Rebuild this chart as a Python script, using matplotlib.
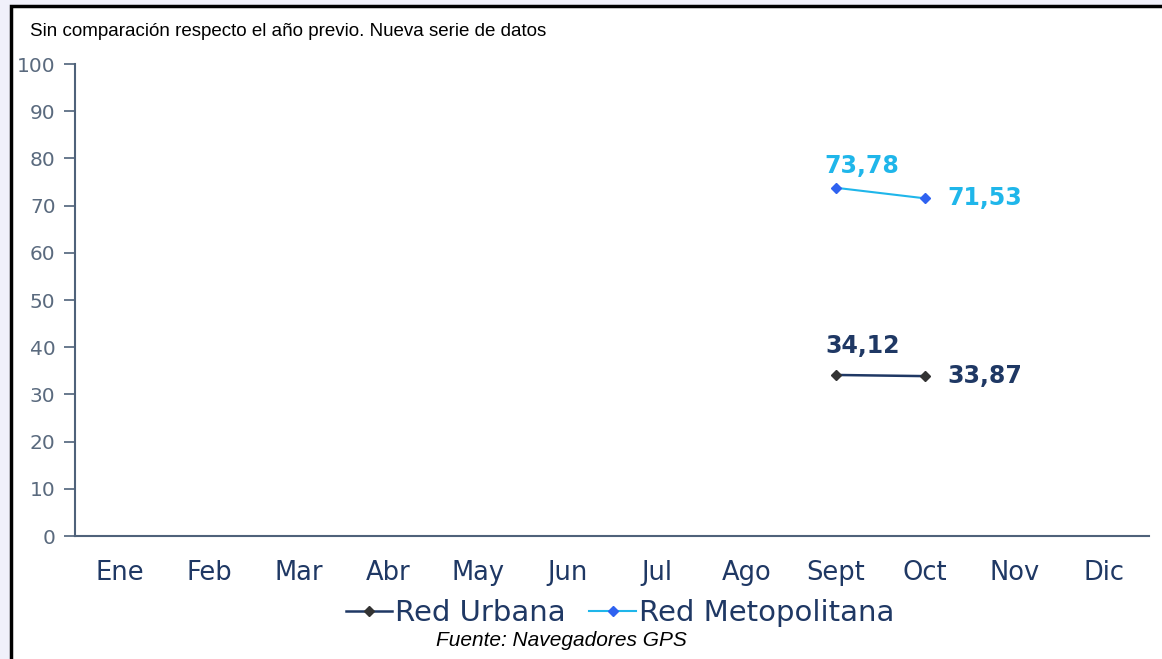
import numpy as np
import matplotlib.pyplot as plt
from matplotlib.patches import Rectangle

meses = ['Ene', 'Feb', 'Mar', 'Abr', 'May', 'Jun', 'Jul', 'Ago', 'Sept', 'Oct', 'Nov', 'Dic']
red_urbana = [np.nan] * 8 + [34.12, 33.87] + [np.nan] * 2
red_metro = [np.nan] * 8 + [73.78, 71.53] + [np.nan] * 2
yticks = list(range(0, 101, 10))

navy = '#1f3864'
cian = '#1fb6ea'
gris_eje = '#4f627a'
fuente = 'DejaVu Sans'

fig = plt.figure(figsize=(11.62, 6.59), dpi=100)
fig.patch.set_facecolor('#f0f0fa')

# panel blanco con borde negro
panel = Rectangle((10.5 / 1162, -0.05), 1.1, (653.5 / 659) + 0.05, transform=fig.transFigure,
                  facecolor='white', edgecolor='black', linewidth=2.5, zorder=-1)
fig.patches.append(panel)

ax = fig.add_axes([75 / 1162, 1 - 536 / 659, (1149 - 75) / 1162, (536 - 64) / 659])
ax.set_facecolor('none')

x = np.arange(len(meses))
ax.plot(x, red_urbana, color=navy, lw=1.8, marker='D', ms=5, mfc='#333333', mec='#333333',
        label='Red Urbana')
ax.plot(x, red_metro, color=cian, lw=1.5, marker='D', ms=5, mfc='#2f62f0', mec='#2f62f0',
        label='Red Metopolitana')

# etiquetas de datos
i_sep, i_oct = 8, 9
ax.annotate(f'{red_metro[i_sep]:.2f}'.replace('.', ','), (i_sep, red_metro[i_sep]),
            xytext=(19, 7), textcoords='offset points', ha='center', va='bottom',
            color=cian, fontsize=17, fontweight='bold')
ax.annotate(f'{red_metro[i_oct]:.2f}'.replace('.', ','), (i_oct, red_metro[i_oct]),
            xytext=(16, 0), textcoords='offset points', ha='left', va='center',
            color=cian, fontsize=17, fontweight='bold')
ax.annotate(f'{red_urbana[i_sep]:.2f}'.replace('.', ','), (i_sep, red_urbana[i_sep]),
            xytext=(19, 12), textcoords='offset points', ha='center', va='bottom',
            color=navy, fontsize=17, fontweight='bold')
ax.annotate(f'{red_urbana[i_oct]:.2f}'.replace('.', ','), (i_oct, red_urbana[i_oct]),
            xytext=(16, 0), textcoords='offset points', ha='left', va='center',
            color=navy, fontsize=17, fontweight='bold')

ax.set_xlim(-0.5, len(meses) - 0.5)
ax.set_ylim(0, 100)
ax.set_xticks(x)
ax.set_xticklabels(meses, fontsize=18.5, color=navy, family=fuente)
ax.set_yticks(yticks)
ax.set_yticklabels([str(v) for v in yticks], fontsize=14.5, color='#5a6a7e', family=fuente)
ax.tick_params(axis='x', length=0, pad=17)
ax.tick_params(axis='y', length=8, color=gris_eje, width=1.2, pad=6)
for s in ['top', 'right']:
    ax.spines[s].set_visible(False)
for s in ['left', 'bottom']:
    ax.spines[s].set_color(gris_eje)
    ax.spines[s].set_linewidth(1.5)

fig.legend(loc='center', bbox_to_anchor=(620 / 1162, 1 - 613 / 659), ncol=2, frameon=False,
           prop={'family': fuente, 'size': 21}, labelcolor=navy, handlelength=1.6,
           handletextpad=0.1, columnspacing=0.8, borderpad=0)

fig.text(30 / 1162, 1 - 32 / 659, 'Sin comparación respecto el año previo. Nueva serie de datos',
         ha='left', va='center', fontsize=13.5, family='Liberation Sans', color='black')
fig.text(561 / 1162, 1 - 640 / 659, 'Fuente: Navegadores GPS', ha='center', va='center',
         fontsize=15, family='Liberation Sans', style='italic', color='black')

fig.savefig('out.png', dpi=100, facecolor=fig.get_facecolor())
